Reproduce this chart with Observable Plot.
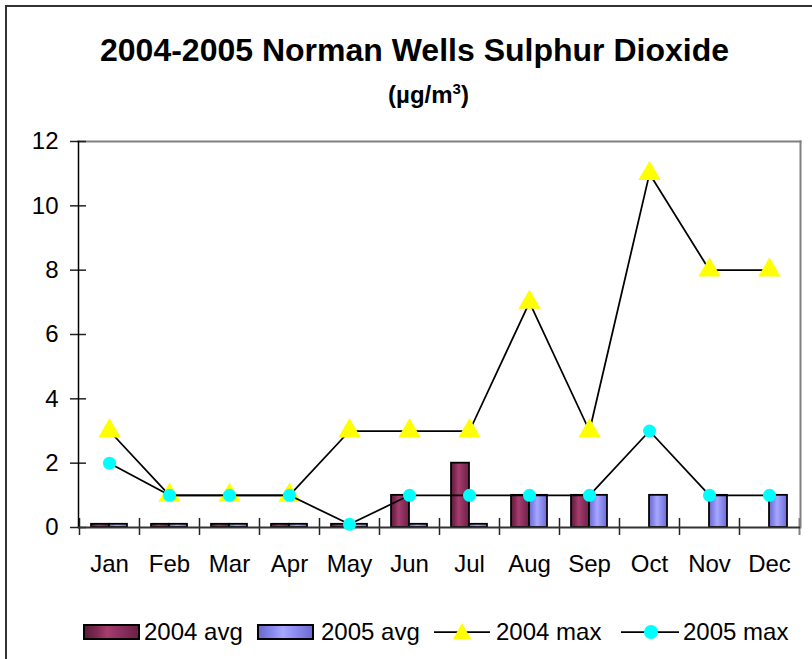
<!DOCTYPE html>
<html>
<head>
<meta charset="utf-8">
<script src="https://cdn.jsdelivr.net/npm/d3@7"></script>
<script src="https://cdn.jsdelivr.net/npm/@observablehq/plot@0.6"></script>
<style>
  body { margin: 0; background: #fff; font-family: "Liberation Sans", Arial, sans-serif; }
  #wrap { position: relative; width: 812px; height: 659px; overflow: hidden; background: #fff; }
  #border { position: absolute; left: 5px; top: 5px; width: 900px; height: 900px; border-left: 2px solid #333; border-top: 2px solid #333; }
  #title { position: absolute; top: 30px; left: 17px; width: 795px; text-align: center; font-weight: bold; font-size: 32px; line-height: 40px; color: #000; }
  #sub { position: absolute; top: 80px; left: 45px; width: 767px; text-align: center; font-weight: bold; font-size: 24px; line-height: 30px; color: #000; }
  #sub sup { font-size: 15px; vertical-align: 9px; line-height: 0; }
  #chart { position: absolute; top: 120px; left: 0; }
  .lg { position: absolute; top: 617px; height: 30px; line-height: 30px; font-size: 24px; color: #000; white-space: nowrap; }
  .sw { position: absolute; top: 624px; width: 57px; height: 16px; box-sizing: border-box; border: 2px solid #000; }
  .lsw { position: absolute; top: 620px; }
</style>
</head>
<body>
<svg width="0" height="0" style="position:absolute">
  <defs>
    <linearGradient id="g04" x1="0" x2="1" y1="0" y2="0">
      <stop offset="0%" stop-color="#5e1b3b"/>
      <stop offset="20%" stop-color="#7a2850"/>
      <stop offset="42%" stop-color="#a63d6e"/>
      <stop offset="65%" stop-color="#8f3161"/>
      <stop offset="100%" stop-color="#6a2144"/>
    </linearGradient>
    <linearGradient id="g05" x1="0" x2="1" y1="0" y2="0">
      <stop offset="0%" stop-color="#6a6acc"/>
      <stop offset="25%" stop-color="#8888ee"/>
      <stop offset="45%" stop-color="#a8a8ff"/>
      <stop offset="70%" stop-color="#8a8af0"/>
      <stop offset="100%" stop-color="#6c6cd0"/>
    </linearGradient>
  </defs>
</svg>
<div id="wrap">
  <div id="border"></div>
  <div id="title">2004-2005 Norman Wells Sulphur Dioxide</div>
  <div id="sub">(µg/m<sup>3</sup>)</div>
  <div id="chart"></div>
  <div class="sw" style="left:83px;background:linear-gradient(to right,#5e1b3b,#7a2850 20%,#a63d6e 42%,#8f3161 65%,#6a2144)"></div>
  <div class="lg" id="t1" style="left:144px"></div>
  <div class="sw" style="left:257px;background:linear-gradient(to right,#6a6acc,#8888ee 25%,#a8a8ff 45%,#8a8af0 70%,#6c6cd0)"></div>
  <div class="lg" id="t2" style="left:321px"></div>
  <svg class="lsw" style="left:434px" width="58" height="24">
    <line x1="0" x2="56" y1="12" y2="12" stroke="#000" stroke-width="1.75"/>
    <path d="M28,3 L37,19 L19,19 Z" fill="#ffff00"/>
  </svg>
  <div class="lg" id="t3" style="left:496px"></div>
  <svg class="lsw" style="left:621px" width="60" height="24">
    <line x1="0" x2="58" y1="12" y2="12" stroke="#000" stroke-width="1.75"/>
    <circle cx="30" cy="12" r="7" fill="#00ffff"/>
  </svg>
  <div class="lg" id="t4" style="left:683px"></div>
</div>
<script>
const months = ["Jan","Feb","Mar","Apr","May","Jun","Jul","Aug","Sep","Oct","Nov","Dec"];
const avg2004 = [0.1, 0.1, 0.1, 0.1, 0.1, 1, 2, 1, 1, null, null, null];
const avg2005 = [0.1, 0.1, 0.1, 0.1, 0.1, 0.1, 0.1, 1, 1, 1, 1, 1];
const max2004 = [3, 1, 1, 1, 3, 3, 3, 7, 3, 11, 8, 8];
const max2005 = [2, 1, 1, 1, 0.1, 1, 1, 1, 1, 3, 1, 1];
const yTicks = [0, 2, 4, 6, 8, 10, 12];
const seriesNames = ["2004 avg", "2005 avg", "2004 max", "2005 max"];

const data = months.map((m, i) => ({
  month: m, avg2004: avg2004[i], avg2005: avg2005[i], max2004: max2004[i], max2005: max2005[i]
}));

["t1","t2","t3","t4"].forEach((id, i) => document.getElementById(id).textContent = seriesNames[i]);

const chart = Plot.plot({
  width: 812,
  height: 460,
  marginTop: 21,
  marginBottom: 53,
  marginLeft: 78,
  marginRight: 12,
  x: { domain: months, padding: 0, label: null },
  y: { domain: [0, 12], label: null },
  style: { fontFamily: "Liberation Sans, Arial, sans-serif", fontSize: "24px", background: "transparent", color: "#000", overflow: "visible" },
  marks: [
    Plot.frame({ anchor: "top", stroke: "#808080", strokeWidth: 2 }),
    Plot.frame({ anchor: "right", stroke: "#808080", strokeWidth: 2 }),
    Plot.axisX({ tickSize: 17, dy: -9, dx: -30, text: null, label: null, stroke: "#222", strokeWidth: 1.5 }),
    Plot.axisX({ ticks: [months[11]], tickSize: 17, dy: -9, dx: 30, text: null, label: null, stroke: "#808080", strokeWidth: 2 }),
    Plot.axisX({ tickSize: 0, tickPadding: 27, fontSize: 24, label: null }),
    Plot.axisY({ ticks: yTicks, tickSize: 16, dx: 8, text: null, label: null, stroke: "#222", strokeWidth: 1.5 }),
    Plot.axisY({ ticks: yTicks, tickSize: 0, tickPadding: 20, fontSize: 24, label: null }),
    Plot.frame({ anchor: "left", stroke: "#000", strokeWidth: 1.5 }),
    Plot.barY(data, { x: "month", y: "avg2004", fill: "url(#g04)", stroke: "#000", strokeWidth: 1.75, insetLeft: 12, insetRight: 30 }),
    Plot.barY(data, { x: "month", y: "avg2005", fill: "url(#g05)", stroke: "#000", strokeWidth: 1.75, insetLeft: 30, insetRight: 12 }),
    Plot.ruleY([0], { stroke: "#333", strokeWidth: 2 }),
    Plot.line(data, { x: "month", y: "max2004", stroke: "#000", strokeWidth: 1.75 }),
    Plot.dot(data, { x: "month", y: "max2004", symbol: "triangle", r: 8.3, fill: "#ffff00", stroke: "none" }),
    Plot.line(data, { x: "month", y: "max2005", stroke: "#000", strokeWidth: 1.75 }),
    Plot.dot(data, { x: "month", y: "max2005", symbol: "circle", r: 6.5, fill: "#00ffff", stroke: "none" })
  ]
});
document.getElementById("chart").appendChild(chart);
</script>
</body>
</html>
